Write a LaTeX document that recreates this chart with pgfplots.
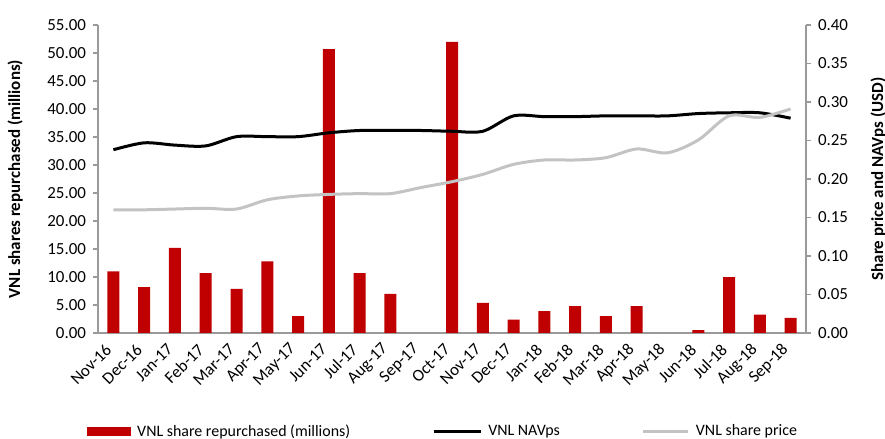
\documentclass[border=0pt]{standalone}
\usepackage{fontspec}
\setmainfont{Carlito}
\usepackage{pgfplots}
\usepackage{pgfplotstable}
\pgfplotsset{compat=1.18}
\definecolor{barred}{HTML}{C00000}
\definecolor{axgray}{HTML}{9A9A9A}
\definecolor{pricegray}{HTML}{C3C3C3}

\pgfplotstableread{
x bars nav price
0 11.0 0.238 0.160
1 8.2 0.247 0.160
2 15.2 0.244 0.161
3 10.7 0.243 0.162
4 7.9 0.255 0.161
5 12.8 0.255 0.173
6 3.0 0.255 0.178
7 50.7 0.260 0.180
8 10.7 0.263 0.181
9 7.0 0.263 0.181
10 0 0.263 0.189
11 52.0 0.262 0.1965
12 5.4 0.262 0.206
13 2.4 0.282 0.219
14 3.9 0.281 0.2247
15 4.8 0.281 0.2247
16 3.0 0.282 0.2277
17 4.8 0.282 0.239
18 0 0.282 0.234
19 0.5 0.285 0.2506
20 10.0 0.286 0.282
21 3.3 0.286 0.280
22 2.7 0.279 0.291
}\datatable

\pgfplotsset{
  common/.style={
    width=354bp, height=154bp, scale only axis,
    at={(49bp,53bp)}, anchor=south west,
    xmin=-0.5, xmax=22.5,
    font=\fontsize{8.5}{10}\selectfont,
    /pgf/number format/assume math mode=true,
    axis line style={-, axgray, line width=0.7bp},
    tick style={axgray, line width=0.7bp},
    major tick length=2.5bp,
    tick align=outside,
    yticklabel style={/pgf/number format/.cd, fixed, fixed zerofill, precision=2},
    scaled y ticks=false,
  }
}

\begin{document}
\begin{tikzpicture}
\useasboundingbox (0,0) rectangle (442.5bp,219.5bp);
\begin{axis}[common,
  axis x line*=bottom, axis y line*=left,
  ymin=0, ymax=55, ytick={0,5,...,55},
  xtick={0,...,22},
  xtick style={draw=none},
  xticklabels={Nov-16,Dec-16,Jan-17,Feb-17,Mar-17,Apr-17,May-17,Jun-17,Jul-17,Aug-17,Sep-17,Oct-17,Nov-17,Dec-17,Jan-18,Feb-18,Mar-18,Apr-18,May-18,Jun-18,Jul-18,Aug-18,Sep-18},
  xticklabel style={yshift=-2bp, rotate=45, anchor=east},
  ylabel={VNL shares repurchased (millions)},
  ylabel style={font=\fontsize{8.5}{10}\selectfont\bfseries, at={(axis description cs:-0.117,0.5)}, anchor=center},
]
\addplot[ybar, bar width=6bp, fill=barred, draw=none] table[x=x, y=bars] {\datatable};
\end{axis}
\begin{axis}[common,
  axis x line=none, axis y line*=right,
  ymin=0, ymax=0.4, ytick={0,0.05,0.1,0.15,0.2,0.25,0.3,0.35,0.4},
  ylabel={Share price and NAVps (USD)},
  ylabel style={font=\fontsize{8.5}{10}\selectfont\bfseries, at={(axis description cs:1.102,0.5)}, anchor=center},
  legend columns=3,
  legend style={draw=none, fill=none, inner sep=0pt, font=\fontsize{8}{9.5}\selectfont,
    at={(axis description cs:-0.0155,-0.321)}, anchor=west,
    nodes={inner sep=0pt},
    /tikz/every odd column/.append style={column sep=3bp},
    /tikz/every even column/.append style={column sep=41bp}},
]
\addlegendimage{legend image code/.code={\fill[barred] (0bp,-2bp) rectangle (21.5bp,2bp);}}
\addlegendentry{VNL share repurchased (millions)}
\addplot[black, line width=1.5bp, smooth, tension=0.5, mark=none,
  legend image code/.code={\draw[black, line width=1.5bp] (0bp,0bp) -- (23.5bp,0bp);}]
  table[x=x, y=nav] {\datatable};
\addlegendentry{VNL NAVps}
\addplot[pricegray, line width=1.5bp, smooth, tension=0.5, mark=none,
  legend image code/.code={\draw[pricegray, line width=1.5bp] (0bp,0bp) -- (22.5bp,0bp);}]
  table[x=x, y=price] {\datatable};
\addlegendentry{VNL share price}
\end{axis}
\end{tikzpicture}
\end{document}
